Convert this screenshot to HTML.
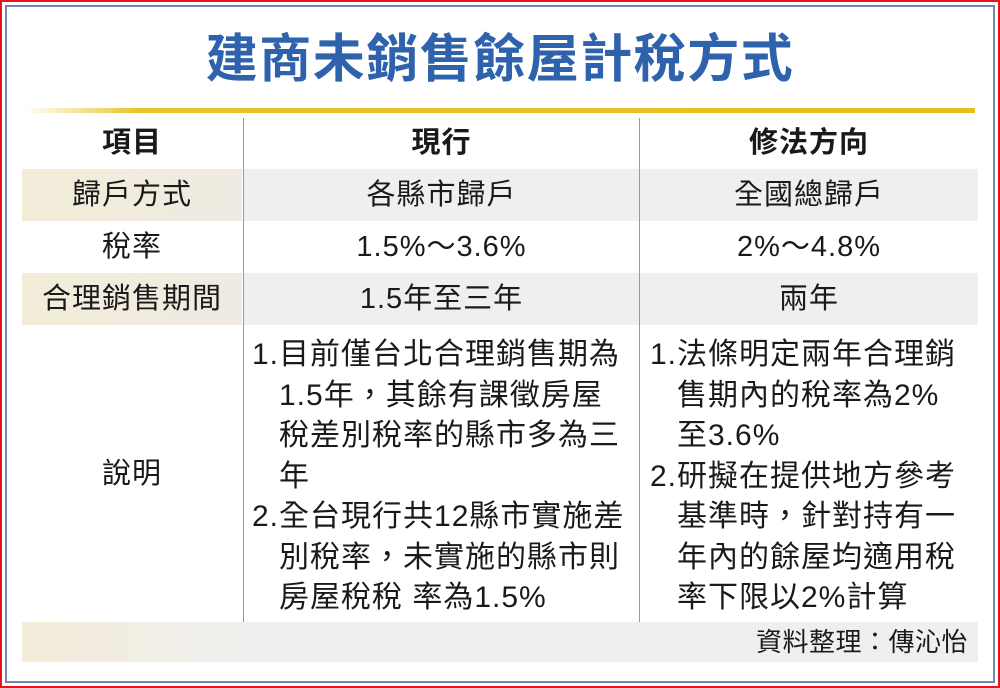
<!DOCTYPE html>
<html><head><meta charset="utf-8"><style>
*{margin:0;padding:0;box-sizing:border-box}
body{width:1000px;height:688px;background:#fff;position:relative;overflow:hidden;font-family:"Liberation Sans","Noto Sans CJK TC",sans-serif;color:#1a1a1a}
.a{position:absolute}
.c{text-align:center}
.t{font-size:29px;line-height:52px;white-space:nowrap;letter-spacing:1px}
.d{font-size:30px;line-height:40.5px;white-space:nowrap;letter-spacing:1px}
</style></head><body>
<div class="a" style="left:0;top:0;width:1000px;height:688px;border:2px solid #e8141c"></div>
<div class="a" style="left:5px;top:5px;width:990px;height:678px;border:2px solid #7088b0"></div>
<div class="a c" style="left:0;top:27px;width:1000px;font-size:52px;font-weight:bold;color:#2f62ad;line-height:66px;letter-spacing:1.5px">建商未銷售餘屋計稅方式</div>
<div class="a" style="left:25px;top:108px;width:950px;height:5px;background:linear-gradient(90deg,#fff,#e8c42a 12%,#e6bf1e)"></div>
<div class="a" style="left:22px;top:169px;width:220px;height:52px;background:linear-gradient(90deg,#f3ecd9,#efebe2)"></div>
<div class="a" style="left:244px;top:169px;width:734px;height:52px;background:#efefef"></div>
<div class="a" style="left:22px;top:273px;width:220px;height:52px;background:linear-gradient(90deg,#f3ecd9,#efebe2)"></div>
<div class="a" style="left:244px;top:273px;width:734px;height:52px;background:#efefef"></div>
<div class="a" style="left:22px;top:622px;width:956px;height:40px;background:linear-gradient(90deg,#f3ecd9,#efefef 25%)"></div>
<div class="a" style="left:243px;top:118px;width:1px;height:504px;background:#9a9a9a"></div>
<div class="a" style="left:639px;top:118px;width:1px;height:504px;background:#9a9a9a"></div>
<div class="a c t" style="left:22px;top:117px;width:220px;font-weight:bold">項目</div>
<div class="a c t" style="left:244px;top:117px;width:395px;font-weight:bold">現行</div>
<div class="a c t" style="left:640px;top:117px;width:338px;font-weight:bold">修法方向</div>
<div class="a c t" style="left:22px;top:169px;width:220px">歸戶方式</div>
<div class="a c t" style="left:244px;top:169px;width:395px">各縣市歸戶</div>
<div class="a c t" style="left:640px;top:169px;width:338px">全國總歸戶</div>
<div class="a c t" style="left:22px;top:221px;width:220px">稅率</div>
<div class="a c t" style="left:244px;top:221px;width:395px">1.5%～3.6%</div>
<div class="a c t" style="left:640px;top:221px;width:338px">2%～4.8%</div>
<div class="a c t" style="left:22px;top:273px;width:220px">合理銷售期間</div>
<div class="a c t" style="left:244px;top:273px;width:395px">1.5年至三年</div>
<div class="a c t" style="left:640px;top:273px;width:338px">兩年</div>
<div class="a c t" style="left:22px;top:448px;width:220px">說明</div>
<div class="a d" style="left:252px;top:335px">1.目前僅台北合理銷售期為<br><span style="padding-left:27px">1.5年，其餘有課徵房屋</span><br><span style="padding-left:27px">稅差別稅率的縣市多為三</span><br><span style="padding-left:27px">年</span><br>2.全台現行共12縣市實施差<br><span style="padding-left:27px">別稅率，未實施的縣市則</span><br><span style="padding-left:27px">房屋稅稅 率為1.5%</span></div>
<div class="a d" style="left:650px;top:335px">1.法條明定兩年合理銷<br><span style="padding-left:27px">售期內的稅率為2%</span><br><span style="padding-left:27px">至3.6%</span><br>2.研擬在提供地方參考<br><span style="padding-left:27px">基準時，針對持有一</span><br><span style="padding-left:27px">年內的餘屋均適用稅</span><br><span style="padding-left:27px">率下限以2%計算</span></div>
<div class="a" style="right:32px;top:622px;font-size:26px;line-height:40px;white-space:nowrap;letter-spacing:0.5px">資料整理：傳沁怡</div>
</body></html>
